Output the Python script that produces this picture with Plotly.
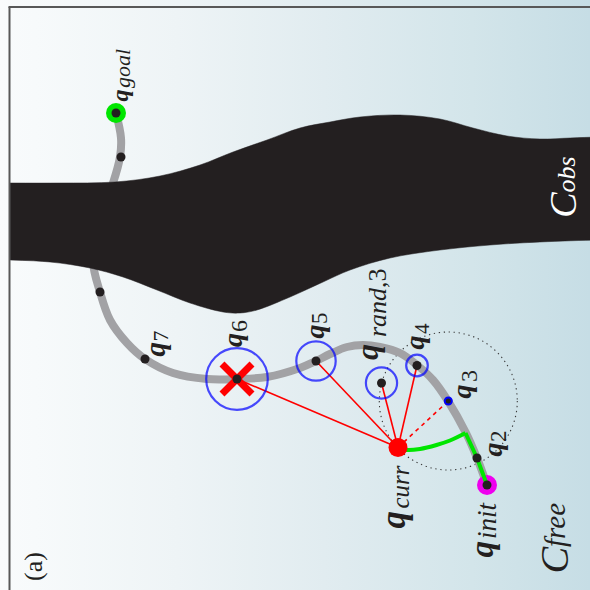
import base64
import plotly.graph_objects as go

# ---------------- data (figure coordinates, y grows downward) ----------------
# gray planned path from q_init to q_goal
path_x = [487, 477, 466, 448, 433, 417, 400, 380, 363, 347, 330, 316, 300, 267, 237, 207, 173, 145, 127, 110, 100, 93, 98, 113, 120, 121, 116]
path_y = [485, 458, 433, 401, 380, 365, 353, 347, 345, 347, 354, 361, 368, 377, 379, 379, 373, 359, 343, 320, 292, 262, 222, 183, 157, 138, 113]

# obstacle outline (top edge left->right, bottom edge right->left)
obs_top_x = [10, 60, 115, 160, 200, 233, 267, 300, 330, 360, 400, 440, 473, 507, 540, 570, 600, 640]
obs_top_y = [183, 183, 182, 176, 165, 152, 140, 128, 122, 117, 115, 119, 128, 136, 139, 138, 137, 137]
obs_bot_x = [640, 600, 540, 490, 440, 390, 350, 323, 290, 257, 240, 223, 190, 157, 123, 90, 50, 10]
obs_bot_y = [240, 240, 242, 245, 250, 258, 270, 282, 297, 310, 313, 312, 303, 290, 277, 268, 262, 260]

# tree nodes drawn as black dots
node_x = [487, 477, 417, 381.5, 316, 237, 145, 100, 121, 116]
node_y = [485, 458, 365.5, 383, 361, 379, 359, 292, 157, 113]

q_init = (487, 485)
q_goal = (116, 113)
q_curr = (398, 447.5)
q3 = (448.3, 401)

# candidate nodes connected to q_curr and their blue neighbourhood radii
cand_x = [237, 316, 381.5, 417]
cand_y = [379, 361, 383, 365.5]
cand_r = [30.8, 19.7, 15.6, 10.8]

# green connection (straight along path, then curve to q_curr)
green_line_x = [487, 477, 465.5]
green_line_y = [485, 458, 433]
green_curve_x = [465.5, 450, 436.5, 420, 406.5, 398]
green_curve_y = [433, 440.5, 445, 449, 450, 447.5]

dotted_r = 69

# label pieces (main symbol / subscript), drawn rotated
label_text = ["<b><i>q</i></b>", "<i>goal</i>",
              "<b><i>q</i></b>", "7",
              "<b><i>q</i></b>", "6",
              "<b><i>q</i></b>", "5",
              "<b><i>q</i></b>", "<i>rand</i>,3",
              "<b><i>q</i></b>", "4",
              "<b><i>q</i></b>", "3",
              "<b><i>q</i></b>", "2",
              "<b><i>q</i></b>", "<i>curr</i>",
              "<b><i>q</i></b>", "<i>init</i>",
              "<i>C</i>", "<i>free</i>",
              "<i>C</i>", "<i>obs</i>",
              "(a)"]
label_x = [119.0, 122.0,
           154.0, 159.5,
           232.5, 238.5,
           314.0, 319.0,
           367.0, 377.0,
           414.0, 421.5,
           461.0, 468.5,
           491.5, 498.0,
           392.5, 399.5,
           481.5, 487.0,
           553.5, 555.0,
           562.2, 566.0,
           33.0]
label_y = [95.5, 69.0,
           349.5, 336.0,
           340.5, 326.5,
           331.5, 318.0,
           352.0, 303.0,
           342.5, 328.5,
           391.5, 376.5,
           450.0, 436.0,
           520.0, 487.0,
           549.0, 520.0,
           560.0, 525.0,
           204.5, 174.5,
           567.0]
label_size = [24, 22,
              29, 22,
              28, 24,
              28, 23,
              32, 26,
              28, 21,
              28, 24,
              28, 23,
              35, 25,
              33, 27,
              40, 29,
              38, 26,
              26]
label_white = [False] * 22 + [True, True, False]

# ---------------- styles ----------------
BLACK = "#231f20"
GRAY = "#a2a2a5"
GREEN = "#00e600"
RED = "#ff0000"
BLUE = "#0000ff"
MAGENTA = "#ee00ee"
FONT = "Liberation Serif"
W = H = 590

bg_stops = [(0.0, "#f9fbfc"), (0.06, "#f7fafb"), (0.3, "#eef4f6"),
            (0.55, "#e1ecf0"), (0.8, "#d3e5ea"), (1.0, "#c6dde5")]
stops = "".join(f'<stop offset="{o}" stop-color="{c}"/>' for o, c in bg_stops)
svg = ('<svg xmlns="http://www.w3.org/2000/svg" width="200" height="200" '
       'preserveAspectRatio="none" viewBox="0 0 200 200">'
       f'<defs><linearGradient id="g" x1="0" x2="1" y1="0" y2="0">{stops}</linearGradient></defs>'
       '<rect x="0" y="0" width="200" height="200" fill="url(#g)"/></svg>')
bg_src = "data:image/svg+xml;base64," + base64.b64encode(svg.encode()).decode()

fig = go.Figure()

# gray path (behind obstacle)
fig.add_trace(go.Scatter(x=path_x, y=path_y, mode="lines",
                         line=dict(color=GRAY, width=8, shape="spline", smoothing=1.0),
                         hoverinfo="skip"))
# obstacle
fig.add_trace(go.Scatter(x=obs_top_x + obs_bot_x, y=obs_top_y + obs_bot_y, mode="lines",
                         fill="toself", fillcolor=BLACK,
                         line=dict(color=BLACK, width=0.5, shape="spline", smoothing=1.0),
                         hoverinfo="skip"))
# start / goal halos
fig.add_trace(go.Scatter(x=[q_init[0]], y=[q_init[1]], mode="markers",
                         marker=dict(size=20, color=MAGENTA), hoverinfo="skip"))
fig.add_trace(go.Scatter(x=[q_goal[0]], y=[q_goal[1]], mode="markers",
                         marker=dict(size=20, color=GREEN), hoverinfo="skip"))
# green connection
fig.add_trace(go.Scatter(x=green_line_x, y=green_line_y, mode="lines",
                         line=dict(color=GREEN, width=4), hoverinfo="skip"))
fig.add_trace(go.Scatter(x=green_curve_x, y=green_curve_y, mode="lines",
                         line=dict(color=GREEN, width=4, shape="spline"), hoverinfo="skip"))
# red rays from q_curr
for cx, cy in zip(cand_x, cand_y):
    fig.add_trace(go.Scatter(x=[q_curr[0], cx], y=[q_curr[1], cy], mode="lines",
                             line=dict(color=RED, width=1.6), hoverinfo="skip"))
fig.add_trace(go.Scatter(x=[q_curr[0], q3[0]], y=[q_curr[1], q3[1]], mode="lines",
                         line=dict(color=RED, width=1.6, dash="4px,4px"), hoverinfo="skip"))
# blue neighbourhood circles
fig.add_trace(go.Scatter(x=cand_x, y=cand_y, mode="markers",
                         marker=dict(symbol="circle-open", size=[2 * r for r in cand_r],
                                     color=BLUE, line=dict(color=BLUE, width=2.2)),
                         hoverinfo="skip"))
# red cross on q6
fig.add_trace(go.Scatter(x=[cand_x[0]], y=[cand_y[0]], mode="markers",
                         marker=dict(symbol="x-thin", size=30, color=RED,
                                     line=dict(color=RED, width=7)),
                         hoverinfo="skip"))
# black nodes
fig.add_trace(go.Scatter(x=node_x, y=node_y, mode="markers",
                         marker=dict(size=9, color=BLACK), hoverinfo="skip"))
# q3
fig.add_trace(go.Scatter(x=[q3[0]], y=[q3[1]], mode="markers",
                         marker=dict(size=7, color=BLACK, line=dict(color=BLUE, width=2)),
                         hoverinfo="skip"))
# q_curr
fig.add_trace(go.Scatter(x=[q_curr[0]], y=[q_curr[1]], mode="markers",
                         marker=dict(size=19, color=RED), hoverinfo="skip"))

annotations = []
for txt, x, y, s, white in zip(label_text, label_x, label_y, label_size, label_white):
    annotations.append(dict(x=x, y=y, xref="x", yref="y", text=txt, showarrow=False,
                            textangle=-90, xanchor="center", yanchor="middle",
                            font=dict(family=FONT, size=s,
                                      color="#ffffff" if white else BLACK)))

shapes = [
    dict(type="circle", xref="x", yref="y", layer="below",
         x0=q3[0] - dotted_r, x1=q3[0] + dotted_r, y0=q3[1] - dotted_r, y1=q3[1] + dotted_r,
         line=dict(color="#3a3a3a", width=1.1, dash="1.3px,3.7px")),
    dict(type="line", xref="x", yref="y", layer="above", x0=9.5, x1=9.5, y0=7, y1=600,
         line=dict(color="#585858", width=2)),
    dict(type="line", xref="x", yref="y", layer="above", x0=8.5, x1=600, y0=7, y1=7,
         line=dict(color="#585858", width=2)),
]

fig.update_layout(
    width=W, height=H, margin=dict(l=0, r=0, t=0, b=0),
    paper_bgcolor="#f4f8f9", plot_bgcolor="rgba(0,0,0,0)",
    showlegend=False,
    xaxis=dict(range=[0, W], visible=False, fixedrange=True),
    yaxis=dict(range=[H, 0], visible=False, fixedrange=True),
    images=[dict(source=bg_src, xref="paper", yref="paper", x=0, y=1, sizex=1, sizey=1,
                 xanchor="left", yanchor="top", sizing="stretch", layer="below")],
    annotations=annotations, shapes=shapes,
)

fig.write_html("out.html", config={"displayModeBar": False},
               post_script="document.body.style.margin='0';document.body.style.overflow='hidden';")
